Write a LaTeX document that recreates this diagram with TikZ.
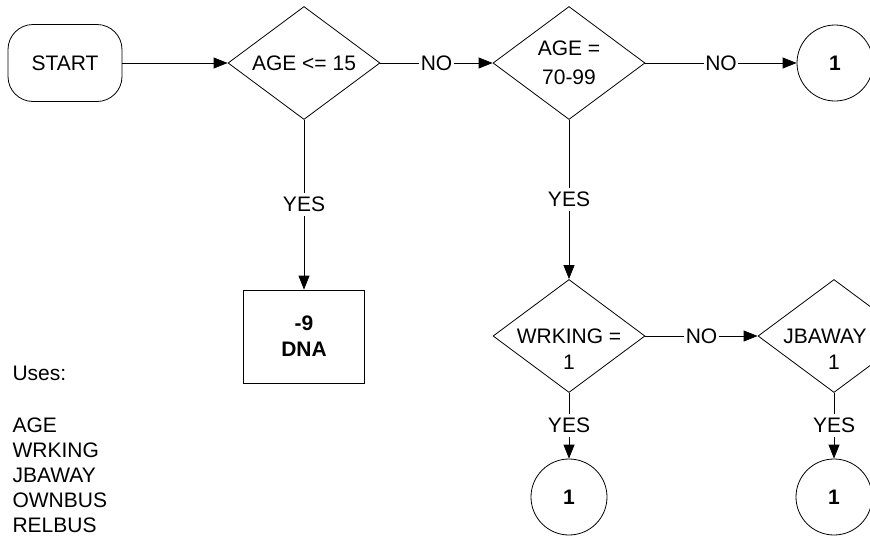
\documentclass[tikz,border=0pt]{standalone}
\usepackage{fontspec}
\setmainfont{Liberation Sans}
\usetikzlibrary{arrows.meta,positioning,shapes.geometric}

\begin{document}
\begin{tikzpicture}[x=1pt, y=-1pt,
    every node/.style={font=\fontsize{21}{26}\selectfont},
    terminal/.style={draw, rectangle, rounded corners=25pt, minimum width=114pt,
      minimum height=77pt, line width=0.8pt},
    decision/.style={draw, diamond, minimum width=152pt, minimum height=113pt,
      inner sep=0pt, line width=0.8pt},
    outcome/.style={draw, rectangle, minimum width=121pt, minimum height=93pt,
      align=center, font=\fontsize{21}{26}\selectfont\bfseries, line width=0.8pt},
    connector/.style={draw, circle, minimum size=76pt, inner sep=0pt,
      font=\fontsize{21}{26}\selectfont\bfseries, line width=0.8pt},
    flow/.style={-{Triangle[length=14pt,width=11pt]}, line width=0.8pt},
    branch/.style={fill=white, inner xsep=1.5pt, inner ysep=4pt}]

        \path[use as bounding box] (0,0) rectangle (870,541);
        \clip (0,0) rectangle (870,541);

        % top row
        \node[terminal] (start) at (65,63) {START};
        \node[decision, label={[align=center]center:AGE <= 15}] (agelow) at (304,63) {};
        \node[decision, label={[align=center]center:AGE =\\[3pt]70-99}] (ageold) at (569,63) {};
        \node[connector] (endtop) at (835,63) {1};

        % second row
        \node[outcome] (dna) at (304,336.5) {-9\\DNA};
        \node[decision, label={[align=center, yshift=-13pt]center:WRKING =\\1}] (wrking) at (569,336) {};
        \node[decision, label={[align=center, yshift=-13pt]center:JBAWAY =\\1}] (jbaway) at (834,336) {};

        % off-page connectors
        \node[connector] (endwrk) at (569,497) {1};
        \node[connector] (endjb) at (834,497) {1};

        % flow lines
        \draw[flow] (start) -- (agelow);
        \draw[flow] (agelow) -- node[branch] {NO} (ageold);
        \draw[flow] (ageold) -- node[branch] {NO} (endtop);
        \draw[flow] (agelow) -- node[branch] {YES} (dna);
        \draw[flow] (ageold) -- node[branch] {YES} (wrking);
        \draw[flow] (wrking) -- node[branch] {NO} (jbaway);
        \draw[flow] (wrking) -- node[branch] {YES} (endwrk);
        \draw[flow] (jbaway) -- node[branch] {YES} (endjb);

        % variables used
        \node[anchor=base west] (uses) at (9,380) {Uses:};
        \foreach \v [count=\i] in {AGE,WRKING,JBAWAY,OWNBUS,RELBUS}
          \node[anchor=base west] (var\i) at (9,{407+25*\i}) {\v};
\end{tikzpicture}
\end{document}
